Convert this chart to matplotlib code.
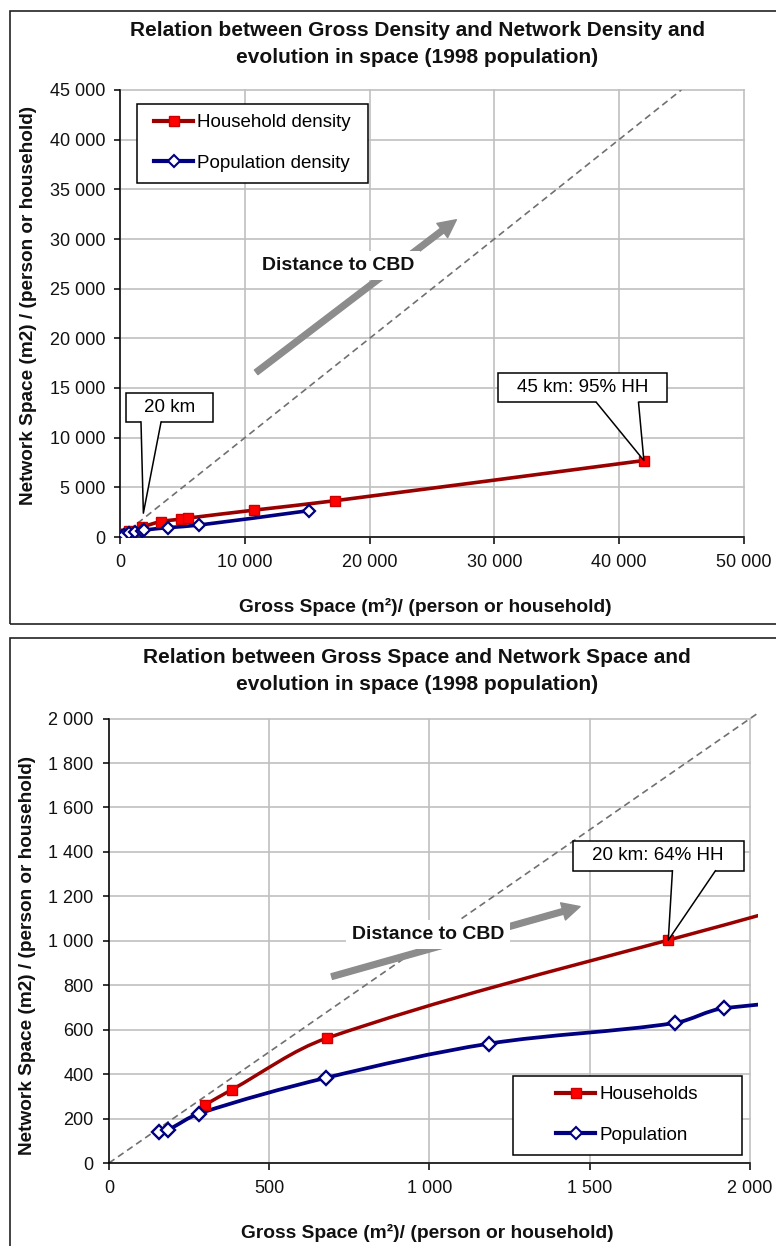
import numpy as np
import matplotlib
matplotlib.use('Agg')
import matplotlib.pyplot as plt
from matplotlib.path import Path
from matplotlib.patches import PathPatch, Rectangle, Polygon, FancyArrowPatch
from matplotlib.lines import Line2D
from matplotlib.ticker import FuncFormatter

plt.rcParams['font.family'] = ['Liberation Sans', 'DejaVu Sans']

# gross space vs network space (m2 per household / per person), 1998 population
hh_gross = [300, 383, 680, 1745, 3250, 4850, 5400, 10700, 17200, 42000]
hh_network = [262, 330, 562, 1003, 1550, 1800, 1900, 2700, 3650, 7700]
pop_gross = [157, 185, 280, 676, 1185, 1765, 1920, 3800, 6300, 15100]
pop_network = [140, 150, 222, 383, 537, 630, 697, 940, 1200, 2650]

top_xticks = [0, 10000, 20000, 30000, 40000, 50000]
top_yticks = list(range(0, 45001, 5000))
bot_xticks = [0, 500, 1000, 1500, 2000]
bot_yticks = list(range(0, 2001, 200))
diag_top = [0, 45000]
diag_bot = [0, 2100]

RED_LINE = '#990000'
RED_MARK = '#ff0000'
BLUE = '#000080'
GRID = '#c0c0c0'
ARROW = '#8c8c8c'

W, H = 776, 1246
fig = plt.figure(figsize=(W / 100, H / 100), dpi=100)


def px_rect(l, t, r, b):
    return [l / W, 1 - b / H, (r - l) / W, (b - t) / H]


def smooth(ax, xs, ys, sx, sy, **kw):
    # excel-like smoothed line drawn as bezier path through the points
    p = np.column_stack([np.asarray(xs) * sx, np.asarray(ys) * sy]).astype(float)
    n = len(p)
    verts = [p[0]]
    codes = [Path.MOVETO]
    for i in range(n - 1):
        a = p[max(i - 1, 0)]
        b = p[i]
        c = p[i + 1]
        d = p[min(i + 2, n - 1)]
        seg = np.hypot(*(c - b)) / 3
        t1 = (c - a) / np.hypot(*(c - a))
        t2 = (d - b) / np.hypot(*(d - b))
        verts += [b + t1 * seg, c - t2 * seg, c]
        codes += [Path.CURVE4] * 3
    verts = np.array(verts) / [sx, sy]
    patch = PathPatch(Path(verts, codes), fill=False, capstyle='round', **kw)
    ax.add_patch(patch)
    return patch


def setup(ax, xt, yt):
    ax.set_xlim(xt[0], xt[-1])
    ax.set_ylim(yt[0], yt[-1])
    ax.set_xticks(xt)
    ax.set_yticks(yt)
    fmt = FuncFormatter(lambda v, _: f'{int(v):,}'.replace(',', ' '))
    ax.xaxis.set_major_formatter(fmt)
    ax.yaxis.set_major_formatter(fmt)
    ax.grid(True, color=GRID, lw=1.2, clip_on=False)
    ax.set_axisbelow(True)
    for s in ['top', 'right']:
        ax.spines[s].set_visible(False)
    for s in ['left', 'bottom']:
        ax.spines[s].set_linewidth(1.1)
        ax.spines[s].set_zorder(2.5)
    ax.tick_params(axis='y', direction='out', length=4.5, width=1.1, pad=6.5, labelsize=13, labelcolor='#111111')
    ax.tick_params(axis='x', direction='out', length=5, width=1.1, pad=7.5, labelsize=13, labelcolor='#111111')


def callout(ax, box, base, tip, label, fs=13.5):
    x0, y0, x1, y1 = box
    ax.add_patch(Rectangle((x0, y0), x1 - x0, y1 - y0, fc='white', ec='black', lw=1.1, zorder=6))
    dy = (y1 - y0) * 0.08
    ax.add_patch(Polygon([(base[0], y0 + dy), (base[0], y0), tip, (base[1], y0), (base[1], y0 + dy)],
                         closed=True, fc='white', ec='none', zorder=7))
    ax.plot([base[0], tip[0], base[1]], [y0, tip[1], y0], color='black', lw=1.1, zorder=8)
    ax.text((x0 + x1) / 2, (y0 + y1) / 2, label, ha='center', va='center', fontsize=fs, zorder=9)


def legend(ax, frame_px, anchor_px, labels, handles):
    l, t, r, b = frame_px
    ax.add_patch(Rectangle((l / W, 1 - b / H), (r - l) / W, (b - t) / H, transform=fig.transFigure,
                           fc='white', ec='black', lw=1.1, zorder=10, clip_on=False))
    leg = ax.legend(handles, labels, loc='upper left',
                    bbox_to_anchor=(anchor_px[0] / W, 1 - anchor_px[1] / H), bbox_transform=fig.transFigure,
                    frameon=False, fontsize=13.5, handlelength=2.1, handletextpad=0.2,
                    borderpad=0, borderaxespad=0, labelspacing=1.25, numpoints=1)
    leg.set_zorder(11)


def distance_arrow(ax, start, end, text_pos):
    ax.add_patch(FancyArrowPatch(start, end,
                                 arrowstyle='simple,head_length=0.8,head_width=0.8,tail_width=0.26',
                                 mutation_scale=16, color=ARROW, shrinkA=0, shrinkB=0, zorder=4))
    ax.text(text_pos[0], text_pos[1], 'Distance to CBD', fontsize=14, fontweight='bold',
            ha='center', va='center', zorder=5, color='#111111',
            bbox=dict(boxstyle='square,pad=0.3', fc='white', ec='none'))


def hh_handle(ms):
    return Line2D([], [], color=RED_LINE, lw=3, marker='s', ms=ms, mfc=RED_MARK, mec='#cc0000', mew=1)


def pop_handle(ms):
    return Line2D([], [], color=BLUE, lw=3, marker='D', ms=ms, mfc='white', mec=BLUE, mew=1.5)


# chart frames
fig.add_artist(Rectangle((10 / W, 1 - 624 / H), 800 / W, 613 / H, transform=fig.transFigure,
                         fill=False, ec='#222222', lw=1.2))
fig.add_artist(Rectangle((10 / W, -0.05), 800 / W, 1 - 638.5 / H + 0.05, transform=fig.transFigure,
                         fill=False, ec='#222222', lw=1.2))

# ---------------- top chart ----------------
ax1 = fig.add_axes(px_rect(120.3, 90, 743.6, 537))
setup(ax1, top_xticks, top_yticks)
sx1, sy1 = 623.3 / 50000, 447 / 45000
ax1.plot(diag_top, diag_top, ls=(0, (4, 2.6)), color='#707070', lw=1.2, zorder=2)
smooth(ax1, hh_gross, hh_network, sx1, sy1, ec=RED_LINE, lw=2.6, zorder=3)
smooth(ax1, pop_gross, pop_network, sx1, sy1, ec=BLUE, lw=2.6, zorder=3)
ax1.plot(hh_gross, hh_network, ls='none', marker='s', ms=6.5, mfc=RED_MARK, mec='#cc0000', mew=1, zorder=3.5)
ax1.plot(pop_gross, pop_network, ls='none', marker='D', ms=6, mfc='white', mec=BLUE, mew=1.6, zorder=3.5)

distance_arrow(ax1, (10900, 16580), (26960, 31940), (17460, 27330))
callout(ax1, (460, 11580, 7430, 14500), (1660, 3270), (1850, 2400), '20 km')
callout(ax1, (30330, 13550, 43830, 16545), (38190, 41570), (hh_gross[-1], hh_network[-1]), '45 km: 95% HH')
legend(ax1, (137, 104, 368, 183), (154, 114), ['Household density', 'Population density'],
       [hh_handle(6.5), pop_handle(6)])

fig.text(417.5 / W, 1 - 35.6 / H, 'Relation between Gross Density and Network Density and',
         ha='center', va='baseline', fontsize=15, fontweight='bold', color='#111111')
fig.text(417.5 / W, 1 - 62.8 / H, 'evolution in space (1998 population)',
         ha='center', va='baseline', fontsize=15, fontweight='bold', color='#111111')
fig.text(425 / W, 1 - 607 / H, 'Gross Space (m²)/ (person or household)', ha='center', va='center',
         fontsize=13.8, fontweight='bold', color='#111111')
fig.text(29 / W, 1 - 305 / H, 'Network Space (m2) / (person or household)', ha='center', va='center',
         rotation=90, fontsize=13.7, fontweight='bold', color='#111111')

# ---------------- bottom chart ----------------
ax2 = fig.add_axes(px_rect(109, 718.6, 750, 1163))
setup(ax2, bot_xticks, bot_yticks)
sx2, sy2 = 641 / 2000, 444.4 / 2000
clip = Rectangle((0, 0), 1.012, 1.012, transform=ax2.transAxes, fc='none', ec='none')
d = ax2.plot(diag_bot, diag_bot, ls=(0, (4, 2.6)), color='#707070', lw=1.2, zorder=2)[0]
d.set_clip_path(clip)
p1 = smooth(ax2, hh_gross, hh_network, sx2, sy2, ec=RED_LINE, lw=2.5, zorder=3)
p2 = smooth(ax2, pop_gross, pop_network, sx2, sy2, ec=BLUE, lw=2.7, zorder=3)
p1.set_clip_path(clip)
p2.set_clip_path(clip)
ax2.plot(hh_gross, hh_network, ls='none', marker='s', ms=7.5, mfc=RED_MARK, mec='#cc0000', mew=1, zorder=3.5)
ax2.plot(pop_gross, pop_network, ls='none', marker='D', ms=7, mfc='white', mec=BLUE, mew=1.7, zorder=3.5)

distance_arrow(ax2, (695, 839), (1470, 1154), (996, 1028))
callout(ax2, (1447, 1315, 1980, 1450), (1758, 1892), (hh_gross[3], hh_network[3]), '20 km: 64% HH')
legend(ax2, (513, 1076, 742, 1155), (556, 1086), ['Households', 'Population'],
       [hh_handle(7), pop_handle(6.5)])

fig.text(417 / W, 1 - 663 / H, 'Relation between Gross Space and Network Space and',
         ha='center', va='baseline', fontsize=15, fontweight='bold', color='#111111')
fig.text(417 / W, 1 - 690.3 / H, 'evolution in space (1998 population)',
         ha='center', va='baseline', fontsize=15, fontweight='bold', color='#111111')
fig.text(427 / W, 1 - 1233 / H, 'Gross Space (m²)/ (person or household)', ha='center', va='center',
         fontsize=13.8, fontweight='bold', color='#111111')
fig.text(28 / W, 1 - 955 / H, 'Network Space (m2) / (person or household)', ha='center', va='center',
         rotation=90, fontsize=13.7, fontweight='bold', color='#111111')

fig.savefig('out.png', dpi=100)
